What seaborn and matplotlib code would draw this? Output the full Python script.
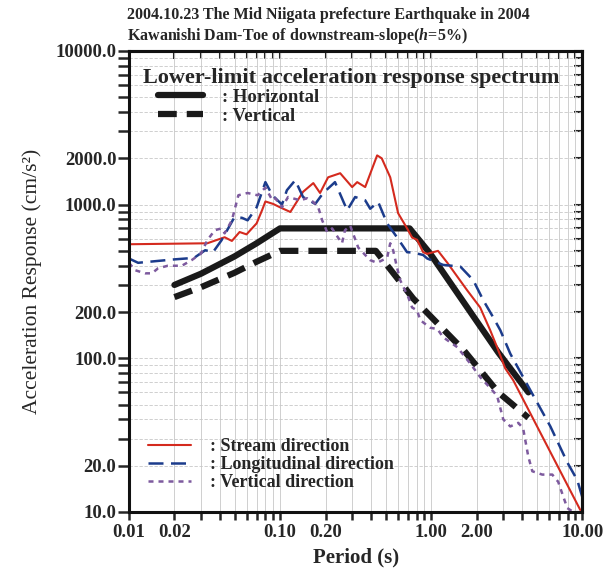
import seaborn as sns
import pandas as pd
import matplotlib.pyplot as plt
from matplotlib.ticker import FixedLocator, NullFormatter

# --- data (period s, acceleration cm/s2) ---
stream_T = [0.010, 0.033, 0.043, 0.048, 0.054, 0.060, 0.070, 0.076, 0.080, 0.090,
            0.100, 0.117, 0.142, 0.166, 0.184, 0.208, 0.250, 0.300, 0.324, 0.366,
            0.439, 0.471, 0.536, 0.604, 0.693, 0.748, 0.807, 0.885, 0.941, 1.11,
            1.28, 1.73, 2.11, 2.46, 2.73, 3.09, 3.49, 9.7]
stream_A = [552, 560, 613, 580, 663, 640, 755, 918, 1048, 1010,
            960, 895, 1211, 1380, 1190, 1505, 1600, 1300, 1400, 1300,
            2090, 2000, 1505, 880, 700, 610, 590, 490, 478, 500,
            418, 277, 214, 152, 118, 86, 72, 10.3]

long_T = [0.010, 0.0115, 0.020, 0.027, 0.032, 0.036, 0.041, 0.050, 0.056, 0.061,
          0.070, 0.080, 0.089, 0.103, 0.111, 0.126, 0.142, 0.171, 0.193, 0.231,
          0.278, 0.314, 0.366, 0.395, 0.446, 0.511, 0.596, 0.693, 0.760, 0.885,
          0.941, 1.20, 1.56, 1.90, 2.21, 2.57, 2.87, 3.34, 4.53, 6.15, 7.96,
          9.27, 10.0]
long_A = [446, 418, 440, 450, 505, 490, 586, 830, 820, 790,
          960, 1400, 1150, 1000, 1240, 1440, 1120, 1010, 1190, 1400,
          918, 1120, 1066, 940, 1040, 755, 610, 490, 487, 470,
          446, 405, 395, 322, 239, 185, 152, 107, 62, 36, 21,
          16.1, 12.5]

vert_T = [0.010, 0.011, 0.0128, 0.0142, 0.0156, 0.0181, 0.0224, 0.026, 0.030, 0.033,
          0.037, 0.041, 0.043, 0.048, 0.053, 0.061, 0.071, 0.080, 0.089, 0.093,
          0.103, 0.113, 0.136, 0.151, 0.166, 0.179, 0.190, 0.205, 0.221, 0.242,
          0.257, 0.269, 0.291, 0.304, 0.329, 0.366, 0.395, 0.439, 0.511, 0.536,
          0.560, 0.596, 0.624, 0.705, 0.748, 0.807, 0.847, 0.985, 1.10, 1.20,
          1.49, 1.82, 2.12, 2.46, 2.73, 3.00, 3.34, 3.77, 4.06, 4.39,
          4.67, 5.43, 6.33, 6.93, 7.48, 7.96, 8.71]
vert_A = [418, 374, 357, 357, 385, 400, 400, 435, 480, 586,
          681, 700, 650, 790, 1150, 1190, 1150, 1290, 1066, 1100,
          960, 1120, 1066, 1100, 1040, 960, 790, 663, 700, 610,
          560, 681, 730, 650, 526, 470, 435, 418, 450, 560,
          505, 385, 322, 250, 214, 205, 177, 158, 155, 137,
          118, 92, 75, 64, 57, 40, 36, 38, 35, 23,
          18.4, 17.5, 17.5, 15.7, 12.6, 10.6, 10.0]

limit_h_T = [0.02, 0.03, 0.05, 0.07, 0.10, 0.72, 0.985, 2.78, 4.4]
limit_h_A = [300, 355, 460, 560, 700, 700, 480, 109, 60]

limit_v_T = [0.02, 0.03, 0.05, 0.07, 0.10, 0.43, 0.76, 1.64, 2.78, 4.4]
limit_v_A = [250, 290, 360, 425, 500, 500, 245, 113, 60, 41]

x_major = [0.01, 0.02, 0.1, 0.2, 1, 2, 10]
x_labels = ["0.01", "0.02", "0.10", "0.20", "1.00", "2.00", "10.00"]
y_major = [10, 20, 100, 200, 1000, 2000, 10000]
y_labels = ["10.0", "20.0", "100.0", "200.0", "1000.0", "2000.0", "10000.0"]

sns.set_style("ticks")
plt.rcParams["font.family"] = ["Liberation Serif", "DejaVu Serif"]
plt.rcParams["mathtext.fontset"] = "custom"
plt.rcParams["mathtext.rm"] = "Liberation Serif:bold"
plt.rcParams["mathtext.it"] = "Liberation Serif:italic:bold"

fig = plt.figure(figsize=(6.11, 5.72), dpi=100)
ax = fig.add_axes([0.211, 0.105, 0.742, 0.806])

df = lambda t, a: pd.DataFrame({"T": t, "A": a})

sns.lineplot(data=df(limit_h_T, limit_h_A), x="T", y="A", ax=ax, color="#1a1a1a",
             lw=4.5, estimator=None, label=": Horizontal")
sns.lineplot(data=df(limit_v_T, limit_v_A), x="T", y="A", ax=ax, color="#1a1a1a",
             lw=4.5, estimator=None, label=": Vertical")
ax.lines[-1].set_linestyle((0, (3, 1.6)))
sns.lineplot(data=df(stream_T, stream_A), x="T", y="A", ax=ax, color="#d42a1e",
             lw=1.5, estimator=None, label=": Stream direction")
sns.lineplot(data=df(long_T, long_A), x="T", y="A", ax=ax, color="#1c3c8c",
             lw=1.8, estimator=None, label=": Longitudinal direction")
ax.lines[-1].set_linestyle((0, (6, 3)))
sns.lineplot(data=df(vert_T, vert_A), x="T", y="A", ax=ax, color="#7d5a9e",
             lw=1.8, estimator=None, label=": Vertical direction")
ax.lines[-1].set_linestyle((0, (2, 2)))

ax.set_xscale("log")
ax.set_yscale("log")
ax.set_xlim(0.01, 10)
ax.set_ylim(10, 10000)

x_minor = [m * d for d in (0.01, 0.1, 1) for m in range(3, 10)]
y_minor = [m * d for d in (10, 100, 1000) for m in range(3, 10)]
ax.xaxis.set_major_locator(FixedLocator(x_major))
ax.xaxis.set_minor_locator(FixedLocator(x_minor))
ax.yaxis.set_major_locator(FixedLocator(y_major))
ax.yaxis.set_minor_locator(FixedLocator(y_minor))
ax.set_xticklabels(x_labels, fontweight="bold", fontsize=13.5)
ax.set_yticklabels(y_labels, fontweight="bold", fontsize=13.5)
ax.xaxis.set_minor_formatter(NullFormatter())
ax.yaxis.set_minor_formatter(NullFormatter())

ax.tick_params(axis="x", which="both", direction="out", length=6, width=1.8, pad=3)
ax.tick_params(axis="y", which="both", direction="out", length=8, width=1.8, pad=1)

top = ax.secondary_xaxis("top")
top.set_xticks(x_major + x_minor)
top.tick_params(direction="in", length=6, width=1.5, labeltop=False)
right = ax.secondary_yaxis("right")
right.set_yticks(y_major + y_minor)
right.tick_params(direction="in", length=6, width=1.5, labelright=False)
for s in list(ax.spines.values()) + [top.spines["top"], right.spines["right"]]:
    s.set_linewidth(2.2)
    s.set_color("#111111")

ax.xaxis.grid(True, which="both", color="#c8c8c8", lw=0.6)
ax.yaxis.grid(True, which="both", color="#c8c8c8", lw=0.6, ls=(0, (4, 2)))

ax.set_xlabel("Period (s)", fontsize=15, fontweight="bold", labelpad=4)
ax.set_ylabel("Acceleration Response (cm/s²)", fontsize=15.5, labelpad=10)

handles, labels = ax.get_legend_handles_labels()
ax.text(0.031, 0.941, "Lower-limit acceleration response spectrum", transform=ax.transAxes,
        fontsize=16, fontweight="bold", va="center", ha="left")
leg1 = ax.legend(handles[:2], labels[:2], loc="upper left", bbox_to_anchor=(0.064, 0.918),
                 frameon=False, handlelength=2.4, handletextpad=1.0,
                 labelspacing=0.1, borderaxespad=0, borderpad=0,
                 prop={"weight": "bold", "size": 13.5})
ax.add_artist(leg1)
ax.legend(handles[2:], labels[2:], loc="lower left", bbox_to_anchor=(0.042, 0.045),
          frameon=False, handlelength=2.4, handletextpad=1.05, labelspacing=0.06,
          borderaxespad=0, borderpad=0, prop={"weight": "bold", "size": 13})

fig.text(0.208, 0.974, "2004.10.23 The Mid Niigata prefecture Earthquake in 2004",
         fontsize=11.5, fontweight="bold", va="center")
fig.text(0.208, 0.937, "Kawanishi Dam-Toe of downstream-slope($\\it{h}$=5%)",
         fontsize=11.5, fontweight="bold", va="center")

fig.savefig("out.png", dpi=100)
